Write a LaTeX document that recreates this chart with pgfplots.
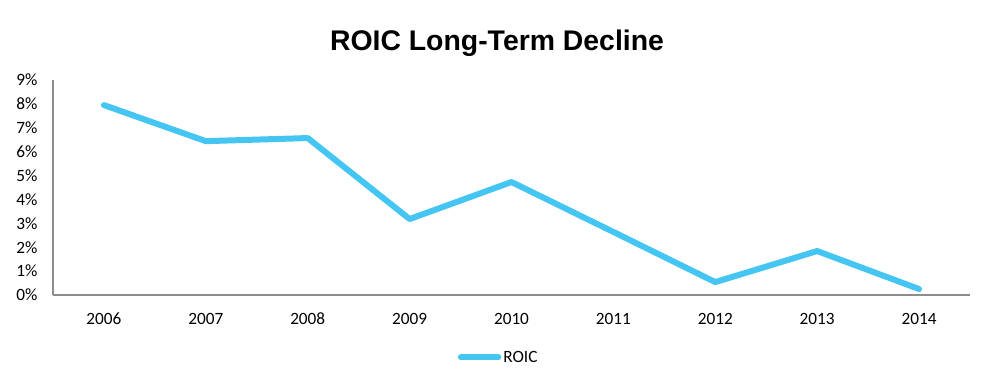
\documentclass[border=0pt]{standalone}
\usepackage{pgfplots}
\pgfplotsset{compat=1.18}
\usepackage{fontspec}
\setmainfont{Carlito}
\newfontfamily\titlefont{Liberation Sans}
\definecolor{roic}{RGB}{68,197,242}
\definecolor{axgray}{RGB}{140,140,140}
\begin{document}
\begin{tikzpicture}
\path (0bp,0bp) rectangle (994bp,392bp);
\node[font={\titlefont\bfseries\fontsize{28.5}{32}\selectfont}] at (497bp,349bp) {ROIC Long-Term Decline};
\begin{axis}[
  at={(53bp,97bp)}, anchor=south west,
  scale only axis, width=917bp, height=215bp,
  xmin=-0.5, xmax=8.5, ymin=0, ymax=9,
  axis x line=bottom, axis y line=left,
  axis line style={axgray, line width=1.5bp, -},
  xtick={0,...,8},
  xticklabels={2006,2007,2008,2009,2010,2011,2012,2013,2014},
  ytick={0,...,9},
  yticklabel={\pgfmathprintnumber{\tick}\%},
  /pgf/number format/assume math mode=true,
  tick style={draw=none},
  tick label style={font=\fontsize{17.3}{19}\selectfont, black},
  yticklabel style={xshift=-10bp},
  xticklabel style={yshift=-12bp, text height=12bp, text depth=0bp},
  legend style={at={(0.486,-0.29)}, anchor=center, draw=none, font=\fontsize{17.3}{19}\selectfont, inner sep=0pt},
  legend image code/.code={\draw[#1, line cap=round] (0,0) -- (0.52in,0);},
]
\addplot[roic, line width=6bp, line join=round, line cap=round] coordinates {
(0,7.95) (1,6.44) (2,6.57) (3,3.18) (4,4.73) (5,2.64) (6,0.54) (7,1.84) (8,0.25)
};
\addlegendentry{ROIC}
\end{axis}
\end{tikzpicture}
\end{document}
